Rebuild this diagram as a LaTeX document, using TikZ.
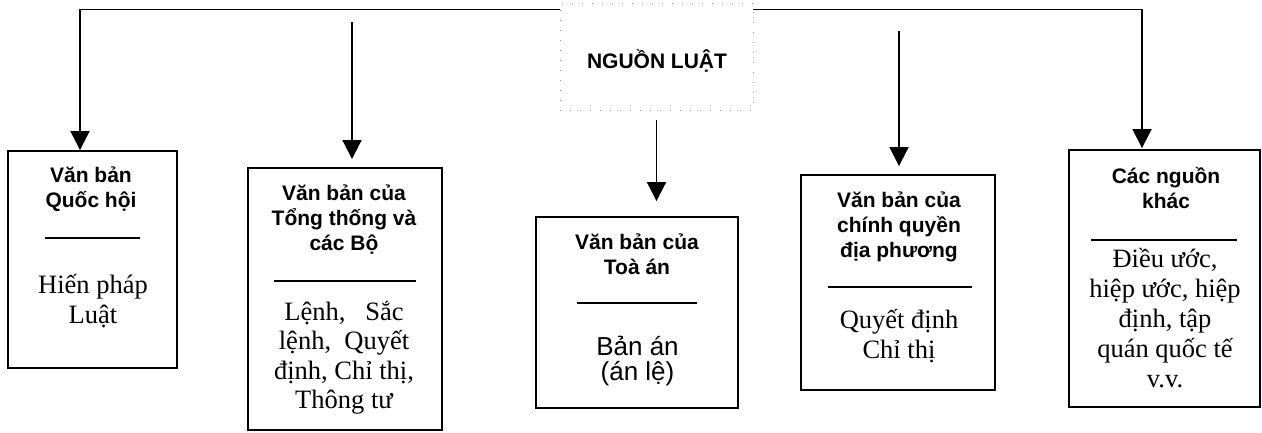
\documentclass[tikz,border=0pt]{standalone}
\usepackage{fontspec}
\setmainfont{Liberation Serif}
\setsansfont{Liberation Sans}
\usetikzlibrary{arrows.meta}

\begin{document}
\begin{tikzpicture}[x=1pt,y=-1pt,
  box/.style={draw,line width=1.9pt,inner sep=0pt},
  head/.style={font=\sffamily\bfseries\fontsize{21}{25}\selectfont,align=center,inner sep=0pt},
  body/.style={font=\fontsize{26.5}{29.5}\selectfont,align=center,inner sep=0pt},
  link/.style={line width=1.9pt,-{Triangle[width=19pt,length=19pt]}},
  sep/.style={line width=1.7pt}]
\useasboundingbox (0,0) rectangle (1262,432);

\node[draw=black!40,line width=0.8pt,dash pattern=on 1pt off 9pt,minimum width=193pt,minimum height=107pt] (src) at (656.5,56.5) {};
\node[head] (srcname) at (657,61) {NGUỒN LUẬT};

\node[box,minimum width=169pt,minimum height=217pt] (vbqh) at (92.5,259.5) {};
\node[head] (vbqh-t) at (91,189.5) {Văn bản\\Quốc hội};
\draw[sep] (45,238) -- (140,238);
\node[body] (vbqh-b) at (93,301) {Hiến pháp\\Luật};

\node[box,minimum width=194pt,minimum height=262pt] (vbtt) at (345,299) {};
\node[head] (vbtt-t) at (344,219.5) {Văn bản của\\Tổng thống và\\các Bộ};
\draw[sep] (274,281) -- (416,281);
\node[body] (vbtt-b) at (344,358) {Lệnh,\ \ \ Sắc\\lệnh,\ \ Quyết\\định, Chỉ thị,\\Thông tư};

\node[box,minimum width=202pt,minimum height=191pt] (vbta) at (637,312.5) {};
\node[head] (vbta-t) at (637,254.5) {Văn bản của\\Toà án};
\draw[sep] (577,303) -- (697,303);
\node[body,font=\sffamily\fontsize{26}{25}\selectfont] (vbta-b) at (637.5,361) {Bản án\\(án lệ)};

\node[box,minimum width=194pt,minimum height=215pt] (vbcq) at (898,282.5) {};
\node[head] (vbcq-t) at (899,227) {Văn bản của\\chính quyền\\địa phương};
\draw[sep] (828,287) -- (972,287);
\node[body] (vbcq-b) at (899,336) {Quyết định\\Chỉ thị};

\node[box,minimum width=191pt,minimum height=257pt] (nguonkhac) at (1164.5,278.5) {};
\node[head] (nguonkhac-t) at (1166,188.5) {Các nguồn\\khác};
\draw[sep] (1091,240) -- (1237,240);
\node[body,font=\fontsize{26.5}{30}\selectfont] (nguonkhac-b) at (1165,318) {Điều ước,\\hiệp ước, hiệp\\định, tập\\quán quốc tế\\v.v.};

\coordinate (k1) at (80,9.5);
\coordinate (k2) at (352,22);
\coordinate (k4) at (899,31);
\coordinate (k5) at (1142,9.5);
\draw[link] (src.west |- k1) -| (vbqh.north -| k1);
\draw[link,shorten >=8pt] (k2) -- (vbtt.north -| k2);
\draw[link,shorten <=10pt,shorten >=15pt] (src.south) -- (vbta.north -| src.south);
\draw[link,shorten >=8pt] (k4) -- (vbcq.north -| k4);
\draw[link,shorten >=1pt] (src.east |- k5) -| (nguonkhac.north -| k5);
\end{tikzpicture}
\end{document}
